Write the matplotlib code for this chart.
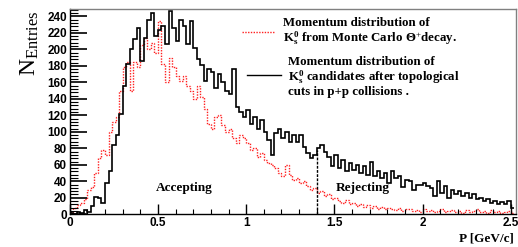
import numpy as np
import matplotlib
matplotlib.use("Agg")
import matplotlib.pyplot as plt

plt.rcParams['mathtext.fontset'] = 'custom'
plt.rcParams['mathtext.rm'] = 'Liberation Serif'
plt.rcParams['mathtext.bf'] = 'Liberation Serif:bold'
plt.rcParams['mathtext.it'] = 'Liberation Serif:italic'

# Histogram binning (GeV/c)
bin_start = 0.0
bin_width = 0.02

# K0s candidates after topological cuts in p+p collisions (black)
candidates = [2, 0, 3, 2, 5, 3, 10, 21, 20, 14,
              38, 52, 84, 96, 122, 155, 182, 200, 212, 226,
              186, 214, 235, 244, 216, 224, 228, 207, 246, 226,
              210, 236, 228, 207, 234, 202, 188, 181, 162, 176,
              172, 153, 170, 160, 150, 146, 176, 130, 124, 118,
              126, 110, 118, 104, 114, 100, 90, 72, 98, 104,
              92, 100, 88, 96, 88, 96, 82, 74, 68, 72,
              80, 84, 76, 70, 58, 72, 56, 66, 52, 62,
              54, 60, 50, 58, 48, 64, 46, 52, 44, 50,
              38, 52, 44, 46, 33, 42, 40, 30, 36, 36,
              38, 34, 32, 22, 40, 26, 34, 20, 30, 24,
              28, 22, 26, 20, 24, 18, 20, 16, 18, 14,
              16, 13, 15, 12, 16, 8]

# K0s from Monte Carlo Theta+ decay (red dotted)
monte_carlo = [3, 8, 11, 14, 18, 30, 33, 50, 68, 78,
               72, 100, 112, 118, 150, 178, 185, 150, 185, 178,
               205, 214, 200, 208, 196, 234, 182, 160, 190, 178,
               168, 162, 168, 155, 150, 140, 156, 142, 128, 110,
               104, 118, 120, 108, 100, 104, 92, 86, 96, 92,
               86, 78, 80, 70, 74, 66, 62, 60, 56, 50,
               46, 60, 48, 42, 44, 38, 40, 34, 30, 32,
               26, 28, 22, 24, 18, 20, 16, 14, 17, 12,
               14, 10, 12, 9, 11, 8, 10, 7, 9, 6,
               8, 7, 5, 8, 4, 6, 7, 4, 5, 3,
               6, 4, 5, 3, 4, 6, 3, 4, 5, 3,
               4, 2, 5, 3, 4, 6, 3, 4, 2, 5,
               3, 4, 2, 3, 4, 2]

cut_momentum = 1.4
cut_height = 78

x_ticks = [0, 0.5, 1, 1.5, 2, 2.5]
x_ticklabels = ["0", "0.5", "1", "1.5", "2", "2.5"]
y_ticks = [0, 20, 40, 60, 80, 100, 120, 140, 160, 180, 200, 220, 240]

edges = bin_start + bin_width * np.arange(len(candidates) + 1)

fig = plt.figure(figsize=(5.18, 2.47), dpi=100)
ax = fig.add_axes([0.1346, 0.1324, 0.9955 - 0.1346, 0.9623 - 0.1324])

ax.stairs(monte_carlo, edges, color='#ff2020', linestyle=(0, (1, 1)), linewidth=1.0, baseline=None)
ax.stairs(candidates, edges, color='black', linewidth=1.2, baseline=None)
ax.plot([cut_momentum, cut_momentum], [0, cut_height], color='black',
        linestyle=(0, (2, 1)), linewidth=1.0)

ax.set_xlim(0, 2.527)
ax.set_ylim(0, 248.5)

ax.set_xticks(x_ticks)
ax.set_xticklabels(x_ticklabels)
ax.set_xticks(np.arange(0, 2.55, 0.1), minor=True)
ax.set_yticks(y_ticks)
ax.set_yticks(np.arange(0, 249, 4), minor=True)

for lab in ax.get_xticklabels() + ax.get_yticklabels():
    lab.set_fontfamily('Liberation Sans')
    lab.set_fontweight('bold')
    lab.set_fontsize(8.5)

ax.tick_params(axis='x', which='major', direction='in', length=7, width=1.0, pad=2, top=False)
ax.tick_params(axis='x', which='minor', direction='in', length=3.5, width=0.8, top=False)
ax.tick_params(axis='y', which='major', direction='in', length=12, width=1.2, pad=2, right=False)
ax.tick_params(axis='y', which='minor', direction='in', length=6, width=0.8, right=False)

for s in ['left', 'bottom']:
    ax.spines[s].set_color('black')
    ax.spines[s].set_linewidth(1.0)
for s in ['top', 'right']:
    ax.spines[s].set_color('#808080')
    ax.spines[s].set_linewidth(1.0)

serif = dict(family='Liberation Serif', weight='bold')

# Axis titles
fig.text(0.058, 0.825, r'$\mathrm{N}_{\mathrm{Entries}}$', rotation=90, ha='center', va='center',
         fontsize=17, family='Liberation Serif')
fig.text(0.992, 0.035, 'P [GeV/c]', ha='right', va='center', fontsize=9.5, **serif)

# Region labels
ax.text(0.49, 32, 'Accepting', ha='left', va='center', fontsize=9.5, **serif)
ax.text(1.51, 32, 'Rejecting', ha='left', va='center', fontsize=9.5, **serif)

# Legend
def px_to_fig(x, y):
    return x / 518.0, 1 - y / 247.0

x0, y0 = px_to_fig(242, 32)
x1, _ = px_to_fig(275, 32)
fig.add_artist(plt.Line2D([x0, x1], [y0, y0], color='#ff2020', linestyle=(0, (1, 1)), linewidth=1.0))
tx, ty = px_to_fig(283, 23)
fig.text(tx, ty, 'Momentum distribution of', ha='left', va='center', fontsize=9.3, **serif)
tx, ty = px_to_fig(283, 38)
fig.text(tx, ty, r'$\mathbf{K^0_s}$ from Monte Carlo Θ$^{+}$decay.', ha='left', va='center', fontsize=9.3, **serif)

x0, y0 = px_to_fig(247, 75)
x1, _ = px_to_fig(281, 75)
fig.add_artist(plt.Line2D([x0, x1], [y0, y0], color='black', linewidth=1.0))
tx, ty = px_to_fig(288, 62)
fig.text(tx, ty, 'Momentum distribution of', ha='left', va='center', fontsize=9.3, **serif)
tx, ty = px_to_fig(288, 77)
fig.text(tx, ty, r'$\mathbf{K^0_s}$ candidates after topological', ha='left', va='center', fontsize=9.3, **serif)
tx, ty = px_to_fig(288, 92)
fig.text(tx, ty, 'cuts in p+p collisions .', ha='left', va='center', fontsize=9.3, **serif)

fig.savefig('out.png', dpi=100)
